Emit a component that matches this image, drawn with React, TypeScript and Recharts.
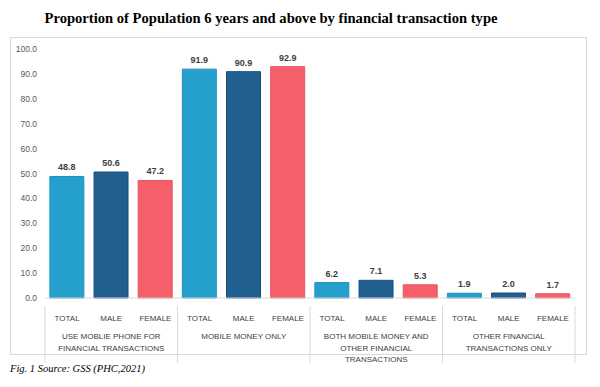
import { BarChart, Bar, XAxis, YAxis, Cell, LabelList } from 'recharts';

const groups = [
  ['USE MOBLIE PHONE FOR', 'FINANCIAL TRANSACTIONS'],
  ['MOBILE MONEY ONLY'],
  ['BOTH MOBILE MONEY AND', 'OTHER FINANCIAL', 'TRANSACTIONS'],
  ['OTHER FINANCIAL', 'TRANSACTIONS ONLY'],
];
const subgroups = ['TOTAL', 'MALE', 'FEMALE'];
const values = [
  [48.8, 50.6, 47.2],
  [91.9, 90.9, 92.9],
  [6.2, 7.1, 5.3],
  [1.9, 2.0, 1.7],
];
const yTicks = [0, 10, 20, 30, 40, 50, 60, 70, 80, 90, 100];

const FILLS = ['#25a0cd', '#215f91', '#f55f6a'];
const STROKES = ['#1e90bf', '#1a4e7a', '#e85260'];

const W = 600;
const H = 387;
const LEFT = 45;
const RIGHT = 25;
const SLOT = (W - LEFT - RIGHT) / 12;

const data = groups.flatMap((g, gi) =>
  subgroups.map((s, si) => ({
    key: `${gi}-${si}`,
    sub: s,
    si,
    gi,
    value: values[gi][si],
  }))
);

function XTick(props: any) {
  const { x, y, payload, index } = props;
  const row = data[index] ?? data[payload.index];
  const si = row ? row.si : index % 3;
  const gi = row ? row.gi : Math.floor(index / 3);
  const lines = groups[gi];
  return (
    <g>
      {si === 0 && (
        <line x1={x - SLOT / 2} x2={x - SLOT / 2} y1={y} y2={y + 57} stroke="#d9d9d9" />
      )}
      {gi === 3 && si === 2 && (
        <line x1={x + SLOT / 2} x2={x + SLOT / 2} y1={y} y2={y + 57} stroke="#d9d9d9" />
      )}
      <text x={x} y={y + 15} textAnchor="middle" fontSize={8} fill="#404040">
        {row ? row.sub : payload.value}
      </text>
      {si === 1 &&
        lines.map((l, i) => (
          <text key={i} x={x} y={y + 33 + i * 11.5} textAnchor="middle" fontSize={8} fill="#404040">
            {l}
          </text>
        ))}
    </g>
  );
}

export default function App() {
  return (
    <div
      style={{
        position: 'absolute',
        left: 0,
        top: 0,
        width: W,
        height: H,
        background: '#fff',
        fontFamily: '"Liberation Sans", Arial, sans-serif',
      }}
    >
      <div
        style={{
          position: 'absolute',
          left: 0,
          width: W,
          top: 10,
          textAlign: 'center',
          fontFamily: '"Liberation Serif", "Times New Roman", serif',
          fontWeight: 'bold',
          fontSize: 14.6,
          color: '#000',
          paddingRight: 58,
          boxSizing: 'border-box',
        }}
      >
        Proportion of Population 6 years and above by financial transaction type
      </div>
      <div
        style={{
          position: 'absolute',
          left: 10,
          top: 37,
          width: 577,
          height: 318,
          border: '1px solid #d9d9d9',
          boxSizing: 'border-box',
        }}
      />
      <div style={{ position: 'absolute', left: 0, top: 0 }}>
        <BarChart
          width={W}
          height={H}
          data={data}
          margin={{ top: 49, right: RIGHT, left: 0, bottom: 0 }}
          barCategoryGap="11%"
        >
          <YAxis
            width={LEFT}
            domain={[0, 100]}
            ticks={yTicks}
            interval={0}
            axisLine={false}
            tickLine={false}
            tickFormatter={(v: number) => v.toFixed(1)}
            tick={{ fontSize: 8.5, fill: '#595959' }}
          />
          <XAxis
            dataKey="key"
            height={89}
            interval={0}
            axisLine={{ stroke: '#d9d9d9' }}
            tickLine={false}
            tick={<XTick />}
          />
          <Bar dataKey="value" isAnimationActive={false}>
            {data.map((d) => (
              <Cell key={d.key} fill={FILLS[d.si]} stroke={STROKES[d.si]} strokeWidth={1} />
            ))}
            <LabelList
              dataKey="value"
              position="top"
              offset={6}
              formatter={(v: any) => Number(v).toFixed(1)}
              style={{ fontSize: 9, fill: '#404040', fontWeight: 'bold' }}
            />
          </Bar>
        </BarChart>
      </div>
      <div
        style={{
          position: 'absolute',
          left: 10,
          top: 363,
          fontFamily: '"Liberation Serif", "Times New Roman", serif',
          fontStyle: 'italic',
          fontSize: 10.5,
          color: '#000',
        }}
      >
        Fig. 1 Source: GSS (PHC,2021)
      </div>
    </div>
  );
}
